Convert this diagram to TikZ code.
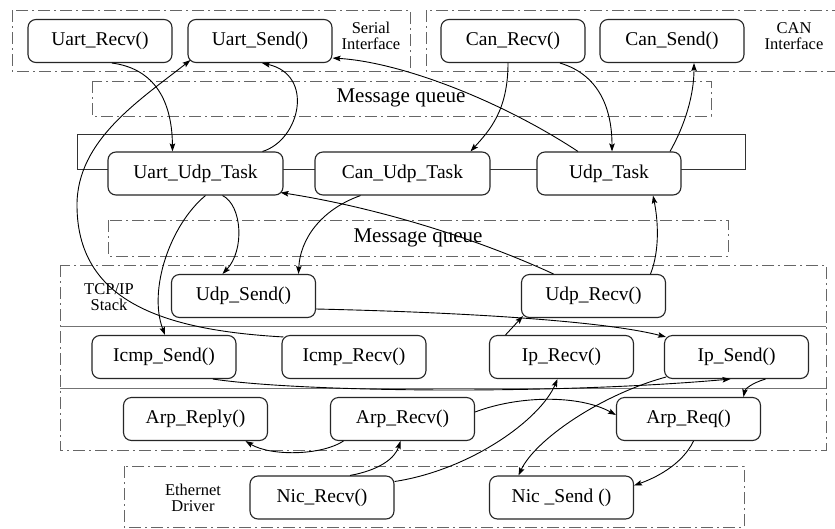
\documentclass[tikz,border=0pt]{standalone}
\usepackage{fontspec}
\setmainfont{Liberation Serif}
\usetikzlibrary{arrows.meta}
\begin{document}
\begin{tikzpicture}[x=1pt,y=-1pt,
  fn/.style={draw=black!85, line width=1.1pt, rounded corners=8pt, fill=white,
    minimum width=144pt, minimum height=43pt, inner sep=0pt,
    font=\fontsize{19.5}{21}\selectfont},
  task/.style={fn, minimum width=175pt},
  grp/.style={draw=black!60, line width=1pt, dash pattern=on 12pt off 4pt on 2pt off 4pt},
  sepline/.style={draw=black!55, line width=0.9pt},
  lbl/.style={font=\fontsize{16.5}{16.5}\selectfont, align=center, inner sep=0pt},
  mq/.style={font=\fontsize{21}{22}\selectfont, inner sep=0pt},
  conn/.style={draw=black, line width=0.9pt, -{Stealth[length=8pt,width=5.5pt,inset=1.5pt]}},
]
\clip (0,0) rectangle (835,528);
\fill[white] (0,0) rectangle (835,528);

% group boxes
\draw[grp] (12,10) rectangle (410,71);
\draw[grp] (426,10) rectangle (838,71);
\draw[grp] (92,81) rectangle (711,116);
\draw[grp] (108,220) rectangle (728,256);
\draw[grp] (60,265) rectangle (826,450);
\draw[grp] (124,466) rectangle (744,527);
\draw[sepline] (60,326) -- (826,326);
\draw[sepline] (60,388) -- (826,388);
\draw[draw=black!80, line width=1pt] (77,134) rectangle (745,169);

% labels
\node[lbl] (serlbl) at (371,36) {Serial\\Interface};
\node[lbl] (canlbl) at (794,36) {CAN\\Interface};
\node[lbl] (tcplbl) at (109,297) {TCP/IP\\Stack};
\node[lbl] (ethlbl) at (193,498) {Ethernet\\Driver};
\node[mq] (mq1) at (401,98) {Message queue};
\node[mq] (mq2) at (418,238) {Message queue};

% nodes
\node[fn] (ur) at (100,41) {Uart\_Recv()};
\node[fn] (us) at (260,41) {Uart\_Send()};
\node[fn] (cr) at (513,41) {Can\_Recv()};
\node[fn] (cs) at (672,41) {Can\_Send()};
\node[task] (ut) at (195.5,173.5) {Uart\_Udp\_Task};
\node[task] (ct) at (402.5,173.5) {Can\_Udp\_Task};
\node[fn] (dt) at (609,173.5) {Udp\_Task};
\node[fn] (usn) at (243.5,296) {Udp\_Send()};
\node[fn] (urv) at (593.5,296) {Udp\_Recv()};
\node[fn] (is) at (164,357) {Icmp\_Send()};
\node[fn] (ir) at (354,357) {Icmp\_Recv()};
\node[fn] (ipr) at (561.5,357) {Ip\_Recv()};
\node[fn] (ips) at (736.5,357) {Ip\_Send()};
\node[fn] (arep) at (195.5,419) {Arp\_Reply()};
\node[fn] (arcv) at (402.5,419) {Arp\_Recv()};
\node[fn] (areq) at (688.5,419) {Arp\_Req()};
\node[fn] (nr) at (322,497.5) {Nic\_Recv()};
\node[fn] (ns) at (561.5,497.5) {Nic \_Send ()};

% connectors
\draw[conn] ([xshift=12pt]ur.south) .. controls (150,68) and (172,95) .. ([xshift=-23pt]ut.north);
\draw[conn] ([xshift=67pt]ut.north) .. controls (300,140) and (315,75) .. ([xshift=2pt]us.south);
\draw[conn] ([xshift=2pt,yshift=-2pt]ir.north west) .. controls (160,330) and (77,300) .. (77,205)
   .. controls (77,140) and (140,100) .. ([xshift=3pt,yshift=3pt]us.south west);
\draw[conn] ([xshift=-31pt]dt.north) .. controls (500,100) and (400,62) .. ([yshift=5pt]us.south east);
\draw[conn] ([xshift=-5pt]cr.south) .. controls (508,110) and (490,130) .. ([xshift=68pt]ct.north);
\draw[conn] ([xshift=47pt]cr.south) .. controls (600,75) and (612,110) .. ([xshift=3pt]dt.north);
\draw[conn] ([xshift=61pt]dt.north) .. controls (685,125) and (694,95) .. ([xshift=22pt]cs.south);
\draw[conn] ([xshift=27pt]ut.south) .. controls (242,205) and (245,250) .. ([xshift=-21pt]usn.north);
\draw[conn] ([xshift=10pt]ut.south) .. controls (170,225) and (148,290) .. ([xshift=1pt]is.north);
\draw[conn] ([xshift=-42pt]ct.south) .. controls (320,210) and (300,240) .. ([xshift=55pt]usn.north);
\draw[conn] ([xshift=-40pt]urv.north) .. controls (480,240) and (380,208) .. ([xshift=-3pt,yshift=3pt]ut.south east);
\draw[conn] ([xshift=57pt]urv.north) .. controls (660,250) and (658,220) .. ([xshift=44pt]dt.south);
\draw[conn] ([yshift=-13pt]usn.east) .. controls (450,312) and (600,320) .. ([xshift=2pt,yshift=-2pt]ips.north west);
\draw[conn] ([xshift=-56pt]ipr.north) -- ([xshift=2pt,yshift=2pt]urv.south west);
\draw[conn] ([xshift=49pt]is.south) .. controls (300,392) and (550,395) .. ([xshift=-6pt]ips.south);
\draw[conn] ([yshift=7pt]arcv.east) .. controls (520,395) and (580,395) .. ([yshift=4pt]areq.west);
\draw[conn] ([xshift=-59pt]arcv.south) .. controls (320,456) and (270,456) .. ([xshift=50pt]arep.south);
\draw[conn] ([xshift=28pt]nr.north) .. controls (380,470) and (395,458) .. ([xshift=-2pt]arcv.south);
\draw[conn] ([yshift=16pt]nr.east) .. controls (470,470) and (540,420) .. ([xshift=-4pt]ipr.south);
\draw[conn] ([xshift=2pt,yshift=2pt]ips.south west) .. controls (600,395) and (535,440) .. ([xshift=-43pt]ns.north);
\draw[conn] ([xshift=29pt]ips.south) .. controls (752,383) and (745,389) .. ([xshift=55pt]areq.north);
\draw[conn] ([xshift=5pt]areq.south) .. controls (682,465) and (655,478) .. ([yshift=12pt]ns.east);
\end{tikzpicture}
\end{document}
